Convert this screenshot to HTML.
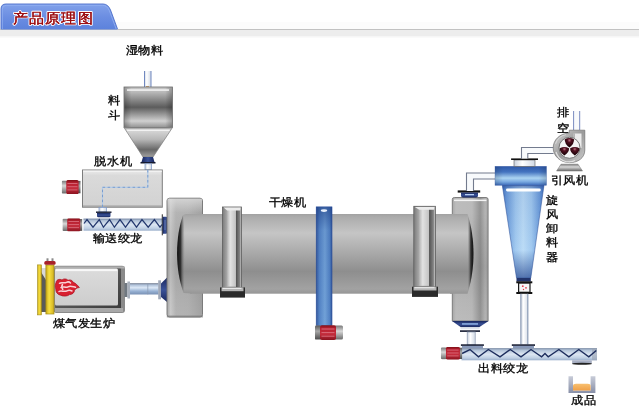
<!DOCTYPE html>
<html><head><meta charset="utf-8">
<style>
html,body{margin:0;padding:0;background:#fff;width:639px;height:409px;overflow:hidden}
svg{display:block;filter:blur(0.25px)}
text{font-family:"Liberation Sans",sans-serif;fill:#000;stroke:#000;stroke-width:0.35px}
.lbl text{font-size:12px;letter-spacing:1px}
.lbl{filter:grayscale(1)}
</style></head><body>
<svg width="639" height="409" viewBox="0 0 639 409">

<defs>
  <linearGradient id="tabg" x1="0" y1="0" x2="0" y2="1">
    <stop offset="0" stop-color="#82a2ea"/>
    <stop offset="0.5" stop-color="#6c8ee2"/>
    <stop offset="1" stop-color="#5c82dc"/>
  </linearGradient>
  <linearGradient id="barg" x1="0" y1="0" x2="0" y2="1">
    <stop offset="0" stop-color="#e9e9e9"/>
    <stop offset="0.6" stop-color="#f2f2f2"/>
    <stop offset="1" stop-color="#ffffff"/>
  </linearGradient>
  <linearGradient id="drum" x1="0" y1="0" x2="0" y2="1">
    <stop offset="0" stop-color="#a2a2a2"/>
    <stop offset="0.04" stop-color="#acacac"/>
    <stop offset="0.24" stop-color="#c5c5c5"/>
    <stop offset="0.5" stop-color="#a8a8a8"/>
    <stop offset="0.72" stop-color="#8e8e8e"/>
    <stop offset="0.94" stop-color="#a2a2a2"/>
    <stop offset="1" stop-color="#969696"/>
  </linearGradient>
  <linearGradient id="metal" x1="0" y1="0" x2="0" y2="1">
    <stop offset="0" stop-color="#c6c6c6"/>
    <stop offset="0.12" stop-color="#bababa"/>
    <stop offset="0.5" stop-color="#5c5c5c"/>
    <stop offset="0.84" stop-color="#d0d0d0"/>
    <stop offset="1" stop-color="#929292"/>
  </linearGradient>
  <linearGradient id="metalc" x1="0" y1="0" x2="0" y2="1">
    <stop offset="0" stop-color="#9a9a9a"/>
    <stop offset="0.1" stop-color="#d6d6d6"/>
    <stop offset="0.4" stop-color="#b8b8b8"/>
    <stop offset="0.75" stop-color="#686868"/>
    <stop offset="1" stop-color="#a0a0a0"/>
  </linearGradient>
  <linearGradient id="metalx" x1="0" y1="0" x2="1" y2="0">
    <stop offset="0" stop-color="#000" stop-opacity="0.25"/>
    <stop offset="0.15" stop-color="#000" stop-opacity="0"/>
    <stop offset="0.85" stop-color="#000" stop-opacity="0"/>
    <stop offset="1" stop-color="#000" stop-opacity="0.25"/>
  </linearGradient>
  <linearGradient id="head" x1="0" y1="0" x2="1" y2="0">
    <stop offset="0" stop-color="#a8a8a8"/>
    <stop offset="0.1" stop-color="#cacaca"/>
    <stop offset="0.25" stop-color="#b4b4b4"/>
    <stop offset="0.6" stop-color="#b2b2b2"/>
    <stop offset="1" stop-color="#a2a2a2"/>
  </linearGradient>
  <linearGradient id="headv" x1="0" y1="0" x2="0" y2="1">
    <stop offset="0" stop-color="#000" stop-opacity="0"/>
    <stop offset="0.5" stop-color="#000" stop-opacity="0.1"/>
    <stop offset="0.8" stop-color="#000" stop-opacity="0.03"/>
    <stop offset="1" stop-color="#000" stop-opacity="0"/>
  </linearGradient>
  <linearGradient id="ring" x1="0" y1="0" x2="1" y2="0">
    <stop offset="0" stop-color="#707070"/>
    <stop offset="0.12" stop-color="#9a9a9a"/>
    <stop offset="0.3" stop-color="#f0f0f0"/>
    <stop offset="0.65" stop-color="#e0e0e0"/>
    <stop offset="0.85" stop-color="#9a9a9a"/>
    <stop offset="1" stop-color="#6a6a6a"/>
  </linearGradient>
  <linearGradient id="bluecol" x1="0" y1="0" x2="1" y2="0">
    <stop offset="0" stop-color="#34589c"/>
    <stop offset="0.2" stop-color="#5484c6"/>
    <stop offset="0.55" stop-color="#72a2d8"/>
    <stop offset="0.85" stop-color="#5282c4"/>
    <stop offset="1" stop-color="#34589c"/>
  </linearGradient>
  <linearGradient id="bluecolv" x1="0" y1="0" x2="0" y2="1">
    <stop offset="0" stop-color="#1a3a80" stop-opacity="0.6"/>
    <stop offset="0.2" stop-color="#1a3a80" stop-opacity="0.1"/>
    <stop offset="1" stop-color="#1a3a80" stop-opacity="0"/>
  </linearGradient>
  <linearGradient id="cyc" x1="0" y1="0" x2="1" y2="0">
    <stop offset="0" stop-color="#4676c2"/>
    <stop offset="0.1" stop-color="#6c9cda"/>
    <stop offset="0.32" stop-color="#a2caf0"/>
    <stop offset="0.5" stop-color="#bcdcf6"/>
    <stop offset="0.7" stop-color="#a2caf0"/>
    <stop offset="0.9" stop-color="#6c9cda"/>
    <stop offset="1" stop-color="#4676c2"/>
  </linearGradient>
  <linearGradient id="cycv" x1="0" y1="0" x2="0" y2="1">
    <stop offset="0" stop-color="#1c3c88" stop-opacity="0.55"/>
    <stop offset="0.06" stop-color="#1c3c88" stop-opacity="0.1"/>
    <stop offset="0.7" stop-color="#1c3c88" stop-opacity="0"/>
    <stop offset="1" stop-color="#1c3c88" stop-opacity="0.65"/>
  </linearGradient>
  <linearGradient id="cyctop" x1="0" y1="0" x2="0" y2="1">
    <stop offset="0" stop-color="#2e58a8"/>
    <stop offset="0.3" stop-color="#4474c0"/>
    <stop offset="0.62" stop-color="#acd4f2"/>
    <stop offset="0.82" stop-color="#78a8e0"/>
    <stop offset="1" stop-color="#3a68b8"/>
  </linearGradient>
  <linearGradient id="red" x1="0" y1="0" x2="0" y2="1">
    <stop offset="0" stop-color="#801018"/>
    <stop offset="0.2" stop-color="#b82030"/>
    <stop offset="0.6" stop-color="#c42c3c"/>
    <stop offset="1" stop-color="#8a1420"/>
  </linearGradient>
  <linearGradient id="cap" x1="0" y1="0" x2="0" y2="1">
    <stop offset="0" stop-color="#7a7a7a"/>
    <stop offset="0.4" stop-color="#d8d8d8"/>
    <stop offset="1" stop-color="#6a6a6a"/>
  </linearGradient>
  <linearGradient id="tube" x1="0" y1="0" x2="0" y2="1">
    <stop offset="0" stop-color="#98aac4"/>
    <stop offset="0.2" stop-color="#b8c8dc"/>
    <stop offset="0.5" stop-color="#dce6f2"/>
    <stop offset="0.8" stop-color="#c0d0e4"/>
    <stop offset="1" stop-color="#9cb0cc"/>
  </linearGradient>
  <linearGradient id="gpipe" x1="0" y1="0" x2="0" y2="1">
    <stop offset="0" stop-color="#6a7488"/>
    <stop offset="0.15" stop-color="#b0c2da"/>
    <stop offset="0.4" stop-color="#dce8f6"/>
    <stop offset="0.7" stop-color="#98b2d4"/>
    <stop offset="1" stop-color="#7890b4"/>
  </linearGradient>
  <linearGradient id="wpipe" x1="0" y1="0" x2="1" y2="0">
    <stop offset="0" stop-color="#c8d0dc"/>
    <stop offset="0.4" stop-color="#ffffff"/>
    <stop offset="1" stop-color="#d0d8e4"/>
  </linearGradient>
  <linearGradient id="navy" x1="0" y1="0" x2="0" y2="1">
    <stop offset="0" stop-color="#18265c"/>
    <stop offset="0.5" stop-color="#3a5298"/>
    <stop offset="1" stop-color="#18265c"/>
  </linearGradient>
  <linearGradient id="navyx" x1="0" y1="0" x2="1" y2="0">
    <stop offset="0" stop-color="#18265c"/>
    <stop offset="0.5" stop-color="#3a5298"/>
    <stop offset="1" stop-color="#18265c"/>
  </linearGradient>
  <linearGradient id="yel" x1="0" y1="0" x2="1" y2="0">
    <stop offset="0" stop-color="#c8a818"/>
    <stop offset="0.4" stop-color="#f8e040"/>
    <stop offset="1" stop-color="#d0b020"/>
  </linearGradient>
  <linearGradient id="gen" x1="0" y1="0" x2="0" y2="1">
    <stop offset="0" stop-color="#f0f0f0"/>
    <stop offset="0.1" stop-color="#dadada"/>
    <stop offset="1" stop-color="#cdcdcd"/>
  </linearGradient>
  <linearGradient id="box" x1="0" y1="0" x2="0" y2="1">
    <stop offset="0" stop-color="#ececec"/>
    <stop offset="0.15" stop-color="#dadada"/>
    <stop offset="1" stop-color="#d2d2d2"/>
  </linearGradient>
  <linearGradient id="fanring" x1="0" y1="0" x2="1" y2="1">
    <stop offset="0" stop-color="#d8d8d8"/>
    <stop offset="0.5" stop-color="#9a9a9a"/>
    <stop offset="1" stop-color="#cacaca"/>
  </linearGradient>
  <radialGradient id="blade" cx="0.5" cy="0.25" r="0.7">
    <stop offset="0" stop-color="#b87080"/>
    <stop offset="0.3" stop-color="#501020"/>
    <stop offset="1" stop-color="#140004"/>
  </radialGradient>
  <linearGradient id="cont" x1="0" y1="0" x2="0" y2="1">
    <stop offset="0" stop-color="#c8ccd8"/>
    <stop offset="1" stop-color="#8890a8"/>
  </linearGradient>
  <linearGradient id="orange" x1="0" y1="0" x2="0" y2="1">
    <stop offset="0" stop-color="#f8c070"/>
    <stop offset="1" stop-color="#f0a048"/>
  </linearGradient>
  <linearGradient id="lensL" x1="0" y1="0" x2="1" y2="0">
    <stop offset="0" stop-color="#101010"/>
    <stop offset="0.45" stop-color="#303030"/>
    <stop offset="1" stop-color="#8a8a8a" stop-opacity="0"/>
  </linearGradient>
  <linearGradient id="lensR" x1="0" y1="0" x2="1" y2="0">
    <stop offset="0" stop-color="#8a8a8a" stop-opacity="0"/>
    <stop offset="0.55" stop-color="#303030"/>
    <stop offset="1" stop-color="#101010"/>
  </linearGradient>
  <linearGradient id="ringL" x1="0" y1="0" x2="1" y2="0">
    <stop offset="0" stop-color="#7a7a7a"/>
    <stop offset="0.25" stop-color="#aaaaaa"/>
    <stop offset="0.75" stop-color="#9a9a9a"/>
    <stop offset="1" stop-color="#b8b8b8"/>
  </linearGradient>
  <linearGradient id="ringI" x1="0" y1="0" x2="1" y2="0">
    <stop offset="0" stop-color="#b4b4b4"/>
    <stop offset="0.35" stop-color="#e2e2e2"/>
    <stop offset="1" stop-color="#c2c2c2"/>
  </linearGradient>
  <linearGradient id="ringD" x1="0" y1="0" x2="1" y2="0">
    <stop offset="0" stop-color="#505050"/>
    <stop offset="1" stop-color="#8a8a8a"/>
  </linearGradient>
  <linearGradient id="headR" x1="0" y1="0" x2="1" y2="0">
    <stop offset="0" stop-color="#a8a8a8"/>
    <stop offset="0.1" stop-color="#bcbcbc"/>
    <stop offset="0.55" stop-color="#bababa"/>
    <stop offset="0.78" stop-color="#949494"/>
    <stop offset="0.92" stop-color="#b4b4b4"/>
    <stop offset="1" stop-color="#a4a4a4"/>
  </linearGradient>
  <linearGradient id="headtop" x1="0" y1="0" x2="0" y2="1">
    <stop offset="0" stop-color="#e0e0e0" stop-opacity="0.7"/>
    <stop offset="1" stop-color="#e0e0e0" stop-opacity="0"/>
  </linearGradient>
  <linearGradient id="genDark" x1="0" y1="0" x2="1" y2="1">
    <stop offset="0" stop-color="#707070"/>
    <stop offset="1" stop-color="#3a3a3a"/>
  </linearGradient>
  <linearGradient id="capd" x1="0" y1="0" x2="0" y2="1">
    <stop offset="0" stop-color="#5a5a5a"/>
    <stop offset="0.4" stop-color="#a8a8a8"/>
    <stop offset="1" stop-color="#4a4a4a"/>
  </linearGradient>
  <symbol id="mot" viewBox="0 0 20 14" preserveAspectRatio="none">
    <rect x="0" y="0.6" width="5.5" height="12.8" rx="1.2" fill="url(#cap)"/>
    <rect x="17" y="0.8" width="3" height="12.4" fill="url(#capd)"/>
    <rect x="4.8" y="0" width="13" height="14" rx="1.5" fill="url(#red)"/>
    <g stroke="#e07c8a" stroke-width="0.75">
      <line x1="6" y1="3.4" x2="16.6" y2="3.4"/>
      <line x1="6" y1="6.6" x2="16.6" y2="6.6"/>
      <line x1="6" y1="9.8" x2="16.6" y2="9.8"/>
    </g>
  </symbol>
</defs>

<rect x="0" y="22" width="639" height="7" fill="#fcfcfc"/>
<rect x="0" y="29" width="639" height="1" fill="#c2c2c2"/>
<rect x="0" y="30" width="639" height="6" fill="#ededed"/>
<rect x="0" y="36" width="639" height="1.5" fill="#f6f6f6"/>
<path d="M1,29.5 L1,9 Q1,4 6,4 L103,4 Q108,4 110.5,10 L117.5,29.5 Z" fill="url(#tabg)"/>
<path d="M1,29 L1,9 Q1,4 6,4 L103,4 Q108,4 110.5,10 L117.5,29" fill="none" stroke="#4a6cc8" stroke-width="0.9"/>
<path d="M2.3,29 L2.3,9.2 Q2.3,5.3 6.2,5.3 L102.6,5.3 Q107,5.3 109.3,10.5 L116.2,29" fill="none" stroke="#94b2f2" stroke-width="1" opacity="0.8"/>
<g style="filter:contrast(1)"><text transform="translate(13,22.8) scale(1,0.93)" font-size="15.3" style="fill:#a00e12;stroke:#fff;stroke-width:2.3;paint-order:stroke;stroke-linejoin:round;letter-spacing:0.6px">产品原理图</text><text transform="translate(13,22.8) scale(1,0.93)" font-size="15.3" style="fill:#9a0c10;stroke:#9a0c10;stroke-width:0.3;letter-spacing:0.6px">产品原理图</text></g>

<!-- HOPPER -->
<rect x="144" y="71" width="7" height="17" fill="url(#wpipe)"/>
<line x1="144.5" y1="71" x2="144.5" y2="88" stroke="#7088c0" stroke-width="1"/>
<line x1="151" y1="71" x2="151" y2="88" stroke="#7088c0" stroke-width="1"/>
<rect x="146" y="86" width="3" height="2" fill="#c8a070"/>
<rect x="124" y="87" width="48.5" height="40.5" fill="url(#metal)"/>
<rect x="124" y="87" width="48.5" height="40.5" fill="url(#metalx)" stroke="#6e6e6e" stroke-width="0.8"/>
<rect x="127" y="89.3" width="42" height="1.5" fill="#f6f6f6"/>
<path d="M124,127.5 L172.5,127.5 L153,157 L143,157 Z" fill="url(#metalc)" stroke="#7a7a7a" stroke-width="0.7"/>
<path d="M126.5,129.6 L170,129.6 L169.2,131 L127.4,131 Z" fill="#f2f2f2"/>
<path d="M143,157 L153,157 L154.5,162 L141.5,162 Z" fill="url(#navyx)"/>
<rect x="140.5" y="162" width="15" height="1.5" fill="#151a30"/>
<rect x="145" y="163.8" width="6.5" height="6" fill="url(#wpipe)" stroke="#7a96c8" stroke-width="0.7"/>

<!-- DEWATERING -->
<rect x="82.5" y="170" width="79.8" height="37.2" fill="url(#box)" stroke="#7c7c7c" stroke-width="1"/>
<rect x="83" y="170.5" width="78.8" height="1.5" fill="#f2f2f2"/>
<rect x="83" y="205.5" width="78.8" height="1.2" fill="#a0a0a0"/>
<path d="M147.8,170 L147.8,187.3 L102.5,187.3 L102.5,207.5" fill="none" stroke="#b4cce8" stroke-width="1.2"/>
<path d="M147.8,170 L147.8,187.3 L102.5,187.3 L102.5,207.5" fill="none" stroke="#6a90c8" stroke-width="0.8" stroke-dasharray="2.5,2.5"/>
<use href="#mot" x="61.7" y="180.1" width="19" height="14"/>

<!-- SCREW CONVEYOR 1 -->
<rect x="99" y="207.5" width="7.5" height="4.5" fill="url(#wpipe)" stroke="#7a96c8" stroke-width="0.7"/>
<rect x="96" y="211.5" width="15.5" height="1.4" fill="#151a30"/>
<path d="M97,212.9 L110.5,212.9 L110.5,216 Q110.5,217.3 109,217.3 L98.5,217.3 Q97,217.3 97,216 Z" fill="url(#navy)"/>
<rect x="83.5" y="218.7" width="79" height="12" fill="url(#tube)"/>
<rect x="83.5" y="218.7" width="79" height="0.8" fill="#8090a8"/>
<polyline points="84,223.5 87,219.6 93,227.2 99.3,219.6 103.4,227.2 109.6,219.6 114.4,227.2 120,219.6 125.5,227.2 131,219.6 136.5,227.2 142,219.6 148.2,227.2 154.4,219.6 160,227.2 162,224.5" fill="none" stroke="#24386e" stroke-width="1.2"/>
<use href="#mot" x="62.4" y="218.3" width="20" height="13.3"/>
<rect x="161.8" y="214.3" width="0.9" height="21" fill="#111"/>
<path d="M162.7,216.7 L166,216.7 Q167.6,216.7 167.6,219 L167.6,231.5 Q167.6,233.8 166,233.8 L162.7,233.8 Z" fill="url(#navyx)"/>
<rect x="164.5" y="220" width="1" height="10" fill="#8aa0d0" opacity="0.6"/>

<!-- GAS GENERATOR -->
<rect x="53.5" y="265.8" width="71.5" height="47.2" rx="3" fill="#8a8a8a"/>
<rect x="54.5" y="266.5" width="70" height="2" fill="#b0b0b0"/>
<rect x="55" y="268.5" width="67" height="40.5" rx="2" fill="url(#genDark)"/>
<rect x="55" y="268.5" width="63" height="37" rx="1.5" fill="url(#gen)"/>
<rect x="56" y="269.3" width="61" height="1.6" fill="#fafafa"/>
<rect x="121" y="269" width="1.5" height="39" fill="#8a8a8a"/>
<rect x="55" y="308" width="68" height="4" fill="#a8a8a8"/>
<!-- left frame -->
<rect x="41" y="268" width="5" height="44" fill="#5a5a5a"/>
<path d="M41,268 L46,268 L46,280 L41,272 Z" fill="#d8d8d8"/>
<rect x="37.6" y="264.9" width="3.8" height="50" fill="url(#yel)" stroke="#a08a18" stroke-width="0.6"/>
<rect x="45.9" y="265" width="8.1" height="49" fill="url(#yel)"/>
<rect x="45.9" y="265" width="8.1" height="49" fill="none" stroke="#a08a18" stroke-width="0.7"/>
<rect x="44.3" y="260.9" width="11.3" height="3.8" rx="1.5" fill="#a82028"/>
<rect x="46.5" y="258.3" width="2" height="2.8" fill="#8a8a8a"/>
<rect x="51.5" y="258.3" width="2" height="2.8" fill="#8a8a8a"/>
<!-- flame -->
<path d="M56,282.5 C56.5,279.5 59.5,278.6 62,280 C63.5,278.4 66.5,278.6 68,280.3 C70,279.3 72.5,280.2 73,282.2 C75.5,283 77.5,285.2 79.4,287.5 C77,287.8 75.5,288.8 74.5,290.2 C74.5,292.8 72,294.6 69.5,294.6 C67.5,296.4 63,296.6 60.5,295.2 C57.5,294.6 55.6,292 55.8,289 C55,287 55.2,284.5 56,282.5 Z" fill="#d82030" stroke="#a81020" stroke-width="0.7"/>
<g fill="none" stroke="#f8d0d6" stroke-width="1.5" stroke-linecap="round">
<path d="M59.5,283.3 C61.5,281.8 64,283.8 66.5,282.3 C68,281.5 69.5,282 70.5,283"/>
<path d="M61,287.5 C63,285.8 65.5,288.3 68,286.8 C70.5,285.5 72.5,286.6 75.5,287.3"/>
<path d="M59,291.5 C61.5,289.8 64,292.5 67,290.8 C69,289.8 70.5,290.3 72,291"/>
<path d="M62.5,284.5 C61.5,286 61.8,288 62.8,289.5"/>
</g>
<!-- gas pipe -->
<rect x="124.5" y="283" width="3" height="14" fill="#707880"/>
<rect x="127.4" y="281.5" width="2.6" height="17" fill="#a8b0bc"/>
<rect x="130" y="283.2" width="28.6" height="11.3" fill="url(#gpipe)"/>
<rect x="147.5" y="283.5" width="0.7" height="11" fill="#8898b0"/>
<rect x="158.2" y="280.3" width="2.8" height="19" fill="#a0a8b8"/>
<path d="M161,283.5 L167.6,277 L167.6,302.5 L161,297 Z" fill="url(#navy)"/>

<!-- DRYER left head -->
<rect x="167" y="198.2" width="35.5" height="118.8" rx="2.5" fill="url(#head)" stroke="#727272" stroke-width="0.9"/>
<rect x="167.5" y="198.7" width="34.5" height="14" fill="url(#headtop)"/>
<rect x="167.5" y="213" width="34.5" height="103.5" fill="url(#headv)"/>

<rect x="166.8" y="315.5" width="36.2" height="2" fill="#7a7a7a" opacity="0.6"/>
<!-- drum -->
<rect x="190" y="214" width="265" height="79.7" fill="url(#drum)"/>
<path d="M183,215 C175,236 175,271 183.5,293 L192,293.5 L192,214 L186,214 Z" fill="url(#drum)"/>
<path d="M183,215.5 C175,236 175,271 183.5,292 C185.5,271 185.5,236 183,215.5 Z" fill="url(#lensL)"/>
<!-- rings -->
<rect x="222.5" y="207" width="19" height="81" fill="url(#ringL)" stroke="#5e5e5e" stroke-width="0.8"/>
<rect x="227.2" y="209.5" width="8.7" height="77" fill="url(#ringI)"/>
<rect x="236.0" y="209" width="4.2" height="78" fill="url(#ringD)"/>
<path d="M223.5,207.6 L240.5,207.6 L240.2,210.5 L227.2,210.5 Z" fill="#ececec"/>
<rect x="220" y="287.4" width="25" height="10.2" fill="#2a2a2a"/>
<rect x="221.5" y="287.4" width="22" height="3.8" fill="#b4b4b4"/>
<rect x="222.5" y="287.8" width="19" height="1.2" fill="#e8e8e8"/>
<rect x="413.8" y="206.3" width="21.6" height="81" fill="url(#ringL)" stroke="#5e5e5e" stroke-width="0.8"/>
<rect x="419.2" y="208.8" width="9.9" height="77" fill="url(#ringI)"/>
<rect x="429.1" y="208.3" width="4.8" height="78" fill="url(#ringD)"/>
<path d="M414.8,206.9 L434.40000000000003,206.9 L433.9,209.8 L419.2,209.8 Z" fill="#ececec"/>
<rect x="412" y="286.7" width="26" height="10.2" fill="#2a2a2a"/>
<rect x="413.5" y="286.7" width="23" height="3.8" fill="#b4b4b4"/>
<rect x="414.5" y="287.1" width="20" height="1.2" fill="#e8e8e8"/>
<!-- blue column -->
<rect x="316.2" y="206.9" width="15.8" height="118.5" fill="url(#bluecol)"/>
<rect x="316.2" y="206.9" width="15.8" height="118.5" fill="url(#bluecolv)" stroke="#284c98" stroke-width="0.6"/>
<ellipse cx="324" cy="210.6" rx="3.2" ry="1.4" fill="#e8f0fc"/>
<rect x="334" y="325.6" width="9" height="14" rx="1.5" fill="url(#cap)"/>
<rect x="315" y="325.6" width="6" height="14" rx="1.2" fill="url(#capd)"/>
<rect x="320" y="325.2" width="16" height="14.8" rx="1.8" fill="url(#red)"/>
<g stroke="#e07c8a" stroke-width="0.8"><line x1="321.5" y1="329" x2="334.5" y2="329"/><line x1="321.5" y1="332.6" x2="334.5" y2="332.6"/><line x1="321.5" y1="336.2" x2="334.5" y2="336.2"/></g>
<!-- right head -->
<path d="M452.3,321 L452.3,199.5 Q452.3,197.5 454.3,197.5 L486.1,197.5 Q488.1,197.5 488.1,199.5 L488.1,321 Z" fill="url(#headR)" stroke="#747474" stroke-width="0.9"/>
<rect x="452.8" y="213" width="34.8" height="107.5" fill="url(#headv)"/>
<rect x="454" y="199.6" width="32.5" height="1.5" fill="#f4f4f4"/>
<path d="M467.5,214 C475.5,236 475.5,271 467.5,293.7 L450,293.7 L450,214 Z" fill="url(#drum)"/>
<path d="M467.5,215 C475.5,236 475.5,271 467.5,292 C467.5,271 467.5,236 467.5,215 Z" fill="url(#lensR)"/>
<path d="M452,321 L488.6,321 L479.1,327.3 L460.9,327.3 Z" fill="url(#navy)"/>
<rect x="462" y="323.3" width="16" height="1.3" fill="#9cc0f0"/>
<rect x="460.5" y="327.3" width="19" height="2" fill="#e0e4ec"/>
<rect x="460" y="330.3" width="20" height="1.6" fill="#151a30"/>
<rect x="467.2" y="332" width="8" height="13" fill="url(#wpipe)" stroke="#8a98b0" stroke-width="0.7"/>
<rect x="460.9" y="344.3" width="23" height="1.6" fill="#151a30"/>
<rect x="462" y="345.9" width="21" height="2.4" fill="#8898b8"/>
<!-- right head top flange -->
<rect x="457.7" y="190.4" width="22.5" height="2.2" fill="#111"/>
<path d="M461,192.4 L478,192.4 L478,195.5 Q478,197.6 476,197.6 L463,197.6 Q461,197.6 461,195.5 Z" fill="url(#navy)"/>
<rect x="465" y="194" width="9" height="1.3" fill="#b8d0f4"/>
<!-- pipe head->cyclone -->
<path d="M467,191 L467,173.3 L495,173.3 L495,179 L473.5,179 L473.5,191 Z" fill="#f8fafc"/>
<path d="M466.5,191 L466.5,173 L495,173" fill="none" stroke="#737b8e" stroke-width="1.1"/>
<path d="M473.5,191 L473.5,179 L495,179" fill="none" stroke="#737b8e" stroke-width="1.1"/>

<!-- CYCLONE -->
<path d="M502.3,185.3 L544,185.3 L530.8,278 L516.5,278 Z" fill="url(#cyc)"/>
<path d="M502.3,185.3 L544,185.3 L530.8,278 L516.5,278 Z" fill="url(#cycv)" stroke="#2a4c94" stroke-width="0.5"/>
<rect x="516.5" y="278" width="14.3" height="3.5" fill="#22346c"/>
<rect x="495" y="166.3" width="51.5" height="19" fill="url(#cyctop)"/>
<rect x="495" y="166.3" width="51.5" height="19" fill="url(#metalx)" opacity="0.6" stroke="#2c4e98" stroke-width="0.5"/>
<rect x="506" y="188.6" width="34.8" height="2.8" rx="1.4" fill="#fff"/>
<rect x="514" y="160" width="21" height="6.3" fill="url(#wpipe)" stroke="#5a5a5a" stroke-width="0.6"/>
<rect x="511.1" y="158.4" width="26.9" height="1.6" fill="#111"/>
<path d="M522,158.4 L522,148 L553.5,148 L553.5,153.5 L527.5,153.5 L527.5,158.4 Z" fill="#f8fafc"/>
<path d="M521.5,158.4 L521.5,147.5 L553.5,147.5" fill="none" stroke="#737b8e" stroke-width="1.1"/>
<path d="M527.8,158.4 L527.8,153.5 L553.5,153.5" fill="none" stroke="#737b8e" stroke-width="1.1"/>
<!-- valve -->
<rect x="516.3" y="281.3" width="16" height="2" fill="#111"/>
<rect x="518.6" y="283.1" width="11.4" height="9.2" fill="#f6f6f6" stroke="#1a1a1a" stroke-width="1.2"/>
<rect x="516.3" y="292" width="16" height="2" fill="#111"/>
<circle cx="522.8" cy="286.2" r="0.9" fill="#e04050"/><circle cx="526" cy="287.8" r="0.9" fill="#e04050"/><circle cx="523.5" cy="289.5" r="0.7" fill="#e04050"/>
<rect x="520.4" y="293.8" width="7.9" height="50.5" fill="url(#wpipe)"/>
<line x1="520.9" y1="293.8" x2="520.9" y2="344.3" stroke="#8494b0" stroke-width="1"/>
<line x1="527.8" y1="293.8" x2="527.8" y2="344.3" stroke="#8494b0" stroke-width="1"/>
<rect x="511.8" y="344.3" width="23.2" height="1.6" fill="#151a30"/>
<rect x="513" y="345.9" width="21" height="2.4" fill="#8898b8"/>

<!-- FAN -->
<rect x="573.6" y="111" width="6.1" height="19" fill="#f8fafc"/>
<line x1="573.6" y1="111" x2="573.6" y2="130" stroke="#7a8cc0" stroke-width="1"/>
<line x1="579.7" y1="111" x2="579.7" y2="130" stroke="#7a8cc0" stroke-width="1"/>
<path d="M569.3,130.2 L584.8,130.2 L584.8,150 C584.8,158 578,162.6 569.5,162.6 C560.5,162.6 553.2,156 553.2,148 C553.2,140 559.5,133.5 569.3,133 Z" fill="url(#fanring)" stroke="#707070" stroke-width="0.7"/>
<path d="M573.5,133.5 L581.5,133.5 L581.5,148 L573.5,148 Z" fill="#ececec"/>
<path d="M556,152 A13.5,13.5 0 0 0 575,160.5" fill="none" stroke="#e8e8e8" stroke-width="1.2" opacity="0.9"/>
<path d="M555.5,144 A14,14 0 0 1 566,134.6" fill="none" stroke="#e0e0e0" stroke-width="1" opacity="0.8"/>
<line x1="574.2" y1="133.5" x2="574.2" y2="140" stroke="#8a8a8a" stroke-width="0.8"/>
<circle cx="569.5" cy="147.8" r="10.5" fill="#f4f4f4" stroke="#6a6a6a" stroke-width="0.9"/>
<path d="M561,164.2 L578,164.2 L582.5,171 L556.6,171 Z" fill="url(#cap)" stroke="#707070" stroke-width="0.5"/>
<g fill="url(#blade)">
<path d="M564.8,139.3 Q569.4,136.6 574,139.3 Q574.4,143.8 569.4,147.6 Q564.4,143.8 564.8,139.3 Z"/>
<path d="M559.8,148.3 Q564.4,145.6 569,148.3 Q569.4,152.3 564.4,155.6 Q559.4,152.3 559.8,148.3 Z"/>
<path d="M570.2,148.3 Q574.8,145.6 579.4,148.3 Q579.8,152.3 574.8,155.6 Q569.8,152.3 570.2,148.3 Z"/>
</g>

<!-- BOTTOM CONVEYOR -->
<rect x="461.5" y="348.3" width="135.5" height="12" fill="url(#tube)"/>
<rect x="461.5" y="348.3" width="135.5" height="0.9" fill="#8090a8"/>
<rect x="592" y="348.3" width="5" height="12" fill="#9aa2b0" opacity="0.6"/>
<polyline points="462,353.5 470,349.5 478.5,356.8 488.4,349.5 500,356.8 510.3,349.5 521,356.8 531,349.5 541.6,356.8 545,353.6 548.2,356.8 558.9,349.5 568.9,356.8 578.8,349.5 588.8,356.8 596.3,350.5" fill="none" stroke="#1e2e5e" stroke-width="1.4"/>
<use href="#mot" x="440.8" y="347" width="21.5" height="12.7"/>
<rect x="572.1" y="360.3" width="19.7" height="3.2" fill="#a8b0c4"/>
<ellipse cx="582" cy="363.8" rx="10" ry="1" fill="#222"/>
<!-- container -->
<path d="M568.5,376.2 L568.5,392.9 L595.4,392.9 L595.4,376.2 L590.6,376.2 L590.6,390.5 L573,390.5 L573,376.2 Z" fill="url(#cont)"/>
<path d="M573,386 Q573,383.8 576,383.8 L587.6,383.8 Q590.6,383.8 590.6,386 L590.6,390.5 L573,390.5 Z" fill="url(#orange)"/>
<g class="lbl">
<text transform="translate(125.9,54.3) scale(1,0.9)">湿物料</text>
<text transform="translate(108.1,104.1) scale(1,0.9)">料</text>
<text transform="translate(108.1,119.1) scale(1,0.9)">斗</text>
<text transform="translate(94.4,164.6) scale(1,0.9)">脱水机</text>
<text transform="translate(92.6,241.9) scale(1,0.9)">输送绞龙</text>
<text transform="translate(52.5,326.6) scale(1,0.9)">煤气发生炉</text>
<text transform="translate(268.5,206.2) scale(1,0.9)">干燥机</text>
<text transform="translate(557.2,115.7) scale(1,0.9)">排</text>
<text transform="translate(557.2,131.9) scale(1,0.9)">空</text>
<text transform="translate(550.5,184.3) scale(1,0.9)">引风机</text>
<text transform="translate(546.4,203.5) scale(1,0.9)">旋</text>
<text transform="translate(546.4,217.6) scale(1,0.9)">风</text>
<text transform="translate(546.4,231.7) scale(1,0.9)">卸</text>
<text transform="translate(546.4,245.8) scale(1,0.9)">料</text>
<text transform="translate(546.4,261) scale(1,0.9)">器</text>
<text transform="translate(478,371.6) scale(1,0.9)">出料绞龙</text>
<text transform="translate(571,404) scale(1,0.9)">成品</text>
</g>
</svg>
</body></html>
